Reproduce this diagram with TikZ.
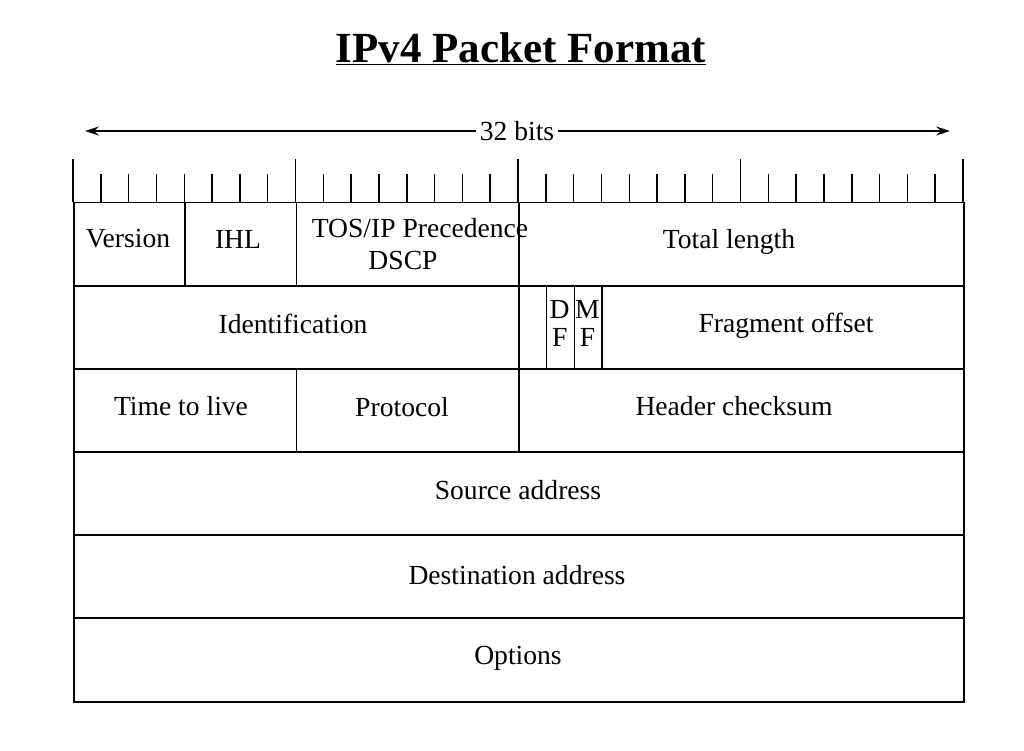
\documentclass[tikz,border=0pt]{standalone}
\usepackage{fontspec}
\setmainfont{Liberation Serif}
\usetikzlibrary{arrows.meta}
\begin{document}
\begin{tikzpicture}[x=1pt,y=-1pt,line width=1.5pt,
  cell/.style={draw, rectangle, inner sep=0pt, anchor=north west, minimum height=83pt},
  lbl/.style={font=\fontsize{27.6}{28}\selectfont, inner sep=0pt, align=center},
  tickline/.style={line width=1.5pt},
  span/.style={line width=1.2pt, -{Stealth[length=14pt,width=9pt,inset=5pt]}}]
\useasboundingbox (0,0) rectangle (1024,751);
% title
\node[inner sep=0pt] (title) at (521,49) {\bfseries\fontsize{43}{46}\selectfont\underline{IPv4 Packet Format}};
% 32 bits span
\node[lbl, fill=white, inner xsep=3pt] (bits) at (517,131) {32 bits};
\coordinate (aleft) at (85,131);
\coordinate (aright) at (950,131);
\draw[span] (bits) -- (aleft);
\draw[span] (bits) -- (aright);
% ticks
\foreach \b in {0,...,32}{
  \pgfmathsetmacro{\xx}{73+\b*27.8125}
  \pgfmathsetmacro{\yt}{mod(\b,8)==0 ? 159 : 174}
  \draw[tickline] (\xx,\yt) -- (\xx,202);
}
% cells
\node[cell, minimum width=111.25pt] (ver)   at (73,202) {};
\node[cell, minimum width=111.25pt] (ihl)   at (184.25,202) {};
\node[cell, minimum width=222.5pt]  (tos)   at (295.5,202) {};
\node[cell, minimum width=445pt]    (tlen)  at (518,202) {};
\node[cell, minimum width=445pt]    (ident) at (73,285) {};
\node[cell, minimum width=27.8pt]   (res)   at (518,285) {};
\node[cell, minimum width=27.8pt]   (df)    at (545.8,285) {};
\node[cell, minimum width=27.8pt]   (mf)    at (573.6,285) {};
\node[cell, minimum width=361.6pt]  (frag)  at (601.4,285) {};
\node[cell, minimum width=222.5pt]  (ttl)   at (73,368) {};
\node[cell, minimum width=222.5pt]  (proto) at (295.5,368) {};
\node[cell, minimum width=445pt]    (chk)   at (518,368) {};
\node[cell, minimum width=890pt]    (src)   at (73,451) {};
\node[cell, minimum width=890pt]    (dst)   at (73,534) {};
\node[cell, minimum width=890pt, minimum height=84pt] (opt) at (73,617) {};
% labels
\node[lbl] (lver)   at (128,239) {Version};
\node[lbl] (lihl)   at (238,239) {IHL};
\node[lbl] (ltos)   at (420,228) {TOS/IP Precedence};
\node[lbl] (ldscp)  at (403,260) {DSCP};
\node[lbl] (ltlen)  at (729,242) {Total length};
\node[lbl] (lident) at (293,324) {Identification};
\node[lbl] (ldf)    at (559.7,323) {D\\F};
\node[lbl] (lmf)    at (587.5,323) {M\\F};
\node[lbl] (lfrag)  at (786,326) {Fragment offset};
\node[lbl] (lttl)   at (181,406) {Time to live};
\node[lbl] (lproto) at (402,407) {Protocol};
\node[lbl] (lchk)   at (734,406) {Header checksum};
\node[lbl] (lsrc)   at (518,490) {Source address};
\node[lbl] (ldst)   at (517,575) {Destination address};
\node[lbl] (lopt)   at (518,658) {Options};
\end{tikzpicture}
\end{document}
